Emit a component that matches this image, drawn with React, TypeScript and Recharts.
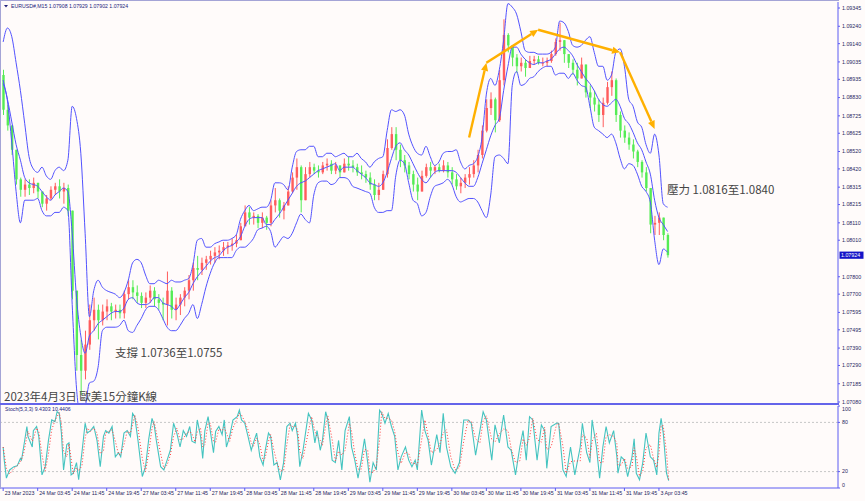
import React from 'react';
import { ComposedChart, LineChart, Bar, Line, XAxis, YAxis, ReferenceLine } from 'recharts';

// ---- hourly candles (EURUSD, 15-min chart aggregated per hour) ----
const openPrices = [
  1.0896,1.0876,1.0867,1.0853,1.0836,1.0830,1.0833,1.0831,1.0834,1.0829,
  1.0822,1.0825,1.0830,1.0832,1.0829,1.0831,1.0818,1.0772,1.0735,1.0726,
  1.0741,1.0755,1.0761,1.0755,1.0760,1.0763,1.0760,1.0761,1.0759,1.0770,
  1.0774,1.0771,1.0769,1.0765,1.0768,1.0772,1.0767,1.0765,1.0764,1.0772,
  1.0761,1.0764,1.0768,1.0772,1.0778,1.0785,1.0784,1.0788,1.0790,1.0792,
  1.0794,1.0795,1.0797,1.0798,1.0799,1.0801,1.0809,1.0817,1.0814,1.0815,
  1.0811,1.0814,1.0811,1.0821,1.0824,1.0818,1.0821,1.0829,1.0837,1.0843,
  1.0824,1.0839,1.0843,1.0841,1.0840,1.0844,1.0845,1.0841,1.0844,1.0840,
  1.0845,1.0844,1.0843,1.0840,1.0839,1.0837,1.0833,1.0827,1.0830,1.0839,
  1.0854,1.0862,1.0853,1.0847,1.0844,1.0839,1.0833,1.0829,1.0838,1.0843,
  1.0841,1.0843,1.0841,1.0844,1.0840,1.0836,1.0832,1.0834,1.0837,1.0839,
  1.0844,1.0850,1.0864,1.0877,1.0882,1.0870,1.0893,1.0919,1.0913,1.0906,
  1.0901,1.0903,1.0900,1.0904,1.0905,1.0903,1.0903,1.0904,1.0908,1.0915,
  1.0916,1.0908,1.0903,1.0899,1.0894,1.0902,1.0886,1.0883,1.0879,1.0873,
  1.0880,1.0889,1.0893,1.0873,1.0864,1.0860,1.0856,1.0852,1.0846,1.0840,
  1.0831,1.0810,1.0811,1.0814,1.0804,
];
const highPrices = [
  1.0899,1.0879,1.0867,1.0853,1.0837,1.0836,1.0836,1.0837,1.0834,1.0829,
  1.0827,1.0832,1.0834,1.0836,1.0834,1.0833,1.0818,1.0772,1.0744,1.0749,
  1.0764,1.0768,1.0764,1.0764,1.0767,1.0765,1.0764,1.0764,1.0772,1.0778,
  1.0778,1.0775,1.0771,1.0771,1.0775,1.0774,1.0770,1.0768,1.0783,1.0774,
  1.0768,1.0770,1.0774,1.0781,1.0788,1.0792,1.0791,1.0792,1.0795,1.0797,
  1.0798,1.0800,1.0800,1.0802,1.0804,1.0811,1.0821,1.0820,1.0817,1.0816,
  1.0817,1.0815,1.0824,1.0831,1.0825,1.0823,1.0832,1.0840,1.0848,1.0844,
  1.0843,1.0846,1.0845,1.0844,1.0846,1.0848,1.0847,1.0846,1.0844,1.0848,
  1.0849,1.0847,1.0845,1.0844,1.0841,1.0840,1.0836,1.0834,1.0841,1.0859,
  1.0866,1.0866,1.0856,1.0850,1.0846,1.0841,1.0837,1.0841,1.0845,1.0846,
  1.0844,1.0845,1.0847,1.0846,1.0843,1.0839,1.0837,1.0839,1.0843,1.0847,
  1.0853,1.0867,1.0882,1.0886,1.0883,1.0899,1.0928,1.0920,1.0913,1.0908,
  1.0906,1.0905,1.0907,1.0907,1.0907,1.0906,1.0906,1.0910,1.0917,1.0926,
  1.0916,1.0908,1.0905,1.0903,1.0906,1.0902,1.0890,1.0887,1.0882,1.0883,
  1.0892,1.0898,1.0894,1.0875,1.0867,1.0863,1.0859,1.0853,1.0847,1.0843,
  1.0831,1.0815,1.0817,1.0814,1.0805,
];
const lowPrices = [
  1.0873,1.0864,1.0850,1.0833,1.0826,1.0826,1.0827,1.0828,1.0825,1.0820,
  1.0818,1.0824,1.0827,1.0825,1.0822,1.0815,1.0767,1.0726,1.0712,1.0721,
  1.0738,1.0749,1.0744,1.0752,1.0755,1.0755,1.0756,1.0756,1.0756,1.0767,
  1.0767,1.0765,1.0762,1.0762,1.0765,1.0763,1.0761,1.0755,1.0752,1.0756,
  1.0755,1.0758,1.0763,1.0767,1.0772,1.0778,1.0781,1.0784,1.0787,1.0788,
  1.0790,1.0792,1.0793,1.0795,1.0797,1.0801,1.0809,1.0810,1.0810,1.0808,
  1.0808,1.0807,1.0809,1.0817,1.0814,1.0813,1.0821,1.0828,1.0830,1.0817,
  1.0824,1.0837,1.0839,1.0837,1.0839,1.0841,1.0839,1.0839,1.0837,1.0840,
  1.0841,1.0840,1.0838,1.0836,1.0834,1.0830,1.0824,1.0824,1.0830,1.0837,
  1.0853,1.0847,1.0843,1.0840,1.0836,1.0829,1.0824,1.0829,1.0837,1.0837,
  1.0839,1.0840,1.0840,1.0837,1.0833,1.0830,1.0828,1.0831,1.0833,1.0837,
  1.0840,1.0848,1.0863,1.0873,1.0863,1.0869,1.0890,1.0909,1.0901,1.0897,
  1.0898,1.0895,1.0900,1.0902,1.0902,1.0901,1.0901,1.0903,1.0907,1.0910,
  1.0903,1.0900,1.0896,1.0890,1.0894,1.0883,1.0877,1.0875,1.0869,1.0866,
  1.0879,1.0884,1.0869,1.0860,1.0857,1.0853,1.0848,1.0843,1.0837,1.0829,
  1.0805,1.0804,1.0804,1.0801,1.0791,
];
const closePrices = [
  1.0876,1.0867,1.0853,1.0836,1.0830,1.0833,1.0831,1.0834,1.0829,1.0822,
  1.0825,1.0830,1.0832,1.0829,1.0831,1.0818,1.0772,1.0735,1.0726,1.0741,
  1.0755,1.0761,1.0755,1.0760,1.0763,1.0760,1.0761,1.0759,1.0770,1.0774,
  1.0771,1.0769,1.0765,1.0768,1.0772,1.0767,1.0765,1.0764,1.0772,1.0761,
  1.0764,1.0768,1.0772,1.0778,1.0785,1.0784,1.0788,1.0790,1.0792,1.0794,
  1.0795,1.0797,1.0798,1.0799,1.0801,1.0809,1.0817,1.0814,1.0815,1.0811,
  1.0814,1.0811,1.0821,1.0824,1.0818,1.0821,1.0829,1.0837,1.0843,1.0824,
  1.0839,1.0843,1.0841,1.0840,1.0844,1.0845,1.0841,1.0844,1.0840,1.0845,
  1.0844,1.0843,1.0840,1.0839,1.0837,1.0833,1.0827,1.0830,1.0839,1.0854,
  1.0862,1.0853,1.0847,1.0844,1.0839,1.0833,1.0829,1.0838,1.0843,1.0841,
  1.0843,1.0841,1.0844,1.0840,1.0836,1.0832,1.0834,1.0837,1.0839,1.0844,
  1.0850,1.0864,1.0877,1.0882,1.0870,1.0893,1.0919,1.0913,1.0906,1.0901,
  1.0903,1.0900,1.0904,1.0905,1.0903,1.0903,1.0904,1.0908,1.0915,1.0916,
  1.0908,1.0903,1.0899,1.0894,1.0902,1.0886,1.0883,1.0879,1.0873,1.0880,
  1.0889,1.0893,1.0873,1.0864,1.0860,1.0856,1.0852,1.0846,1.0840,1.0831,
  1.0810,1.0811,1.0814,1.0804,1.07924,
];

// ---- Bollinger bands ----
const bandUpper = [
  1.0915,1.0923,1.0918,1.0903,1.0887,1.0868,1.0849,1.0842,1.0840,1.0843,
  1.0838,1.0836,1.0841,1.0843,1.0841,1.0847,1.0878,1.0871,1.0851,1.0805,
  1.0757,1.0772,1.0778,1.0774,1.0772,1.0771,1.0770,1.0768,1.0771,1.0778,
  1.0788,1.0790,1.0788,1.0781,1.0776,1.0776,1.0778,1.0777,1.0776,1.0778,
  1.0777,1.0777,1.0778,1.0779,1.0787,1.0801,1.0802,1.0797,1.0797,1.0799,
  1.0800,1.0801,1.0801,1.0802,1.0804,1.0813,1.0818,1.0821,1.0818,1.0819,
  1.0820,1.0820,1.0824,1.0834,1.0834,1.0833,1.0830,1.0843,1.0852,1.0853,
  1.0853,1.0855,1.0855,1.0849,1.0849,1.0851,1.0851,1.0849,1.0850,1.0851,
  1.0849,1.0849,1.0851,1.0848,1.0846,1.0843,1.0846,1.0848,1.0849,1.0864,
  1.0876,1.0875,1.0876,1.0873,1.0862,1.0855,1.0851,1.0850,1.0855,1.0849,
  1.0844,1.0846,1.0851,1.0852,1.0852,1.0853,1.0846,1.0842,1.0844,1.0845,
  1.0849,1.0860,1.0885,1.0894,1.0890,1.0899,1.0916,1.0937,1.0935,1.0931,
  1.0921,1.0910,1.0909,1.0909,1.0908,1.0908,1.0908,1.0909,1.0912,1.0927,
  1.0926,1.0921,1.0913,1.0912,1.0913,1.0916,1.0918,1.0909,1.0901,1.0901,
  1.0893,1.0896,1.0909,1.0911,1.0901,1.0882,1.0878,1.0869,1.0866,1.0856,
  1.0851,1.0862,1.0850,1.0822,1.0820,
];
const bandMiddle = [
  1.0893,1.0882,1.0869,1.0856,1.0847,1.0837,1.0834,1.0833,1.0832,1.0829,
  1.0826,1.0824,1.0827,1.0829,1.0831,1.0829,1.0805,1.0768,1.0746,1.0736,
  1.0746,1.0749,1.0753,1.0755,1.0757,1.0759,1.0760,1.0760,1.0762,1.0767,
  1.0768,1.0765,1.0764,1.0764,1.0765,1.0768,1.0768,1.0765,1.0764,1.0763,
  1.0761,1.0764,1.0768,1.0771,1.0776,1.0780,1.0783,1.0786,1.0789,1.0791,
  1.0792,1.0795,1.0797,1.0798,1.0800,1.0803,1.0809,1.0813,1.0814,1.0814,
  1.0814,1.0810,1.0810,1.0813,1.0816,1.0820,1.0824,1.0828,1.0832,1.0834,
  1.0835,1.0837,1.0839,1.0841,1.0842,1.0843,1.0844,1.0845,1.0841,1.0843,
  1.0843,1.0843,1.0841,1.0839,1.0837,1.0834,1.0833,1.0832,1.0834,1.0840,
  1.0848,1.0855,1.0857,1.0853,1.0850,1.0845,1.0840,1.0836,1.0834,1.0837,
  1.0840,1.0841,1.0841,1.0841,1.0841,1.0840,1.0837,1.0834,1.0832,1.0832,
  1.0837,1.0845,1.0853,1.0861,1.0867,1.0871,1.0887,1.0901,1.0912,1.0912,
  1.0908,1.0905,1.0903,1.0902,1.0903,1.0903,1.0904,1.0905,1.0908,1.0911,
  1.0912,1.0910,1.0907,1.0902,1.0898,1.0894,1.0891,1.0887,1.0882,1.0879,
  1.0878,1.0880,1.0882,1.0878,1.0871,1.0868,1.0863,1.0857,1.0853,1.0846,
  1.0839,1.0824,1.0814,1.0810,1.0806,
];
const bandLower = [
  1.0891,1.0881,1.0857,1.0829,1.0811,1.0824,1.0824,1.0824,1.0825,1.0818,
  1.0815,1.0815,1.0817,1.0817,1.0820,1.0818,1.0764,1.0716,1.0700,1.0705,
  1.0719,1.0720,1.0728,1.0749,1.0751,1.0751,1.0751,1.0752,1.0755,1.0749,
  1.0748,1.0752,1.0756,1.0761,1.0763,1.0763,1.0761,1.0756,1.0751,1.0749,
  1.0749,1.0752,1.0756,1.0759,1.0764,1.0756,1.0764,1.0774,1.0782,1.0788,
  1.0791,1.0791,1.0791,1.0791,1.0795,1.0797,1.0797,1.0799,1.0802,1.0807,
  1.0808,1.0809,1.0806,1.0797,1.0800,1.0803,1.0802,1.0805,1.0811,1.0816,
  1.0813,1.0811,1.0827,1.0834,1.0835,1.0835,1.0833,1.0834,1.0837,1.0837,
  1.0836,1.0832,1.0831,1.0830,1.0829,1.0828,1.0820,1.0817,1.0817,1.0818,
  1.0818,1.0838,1.0847,1.0845,1.0834,1.0824,1.0822,1.0815,1.0817,1.0826,
  1.0832,1.0833,1.0834,1.0836,1.0833,1.0826,1.0823,1.0824,1.0825,1.0825,
  1.0823,1.0818,1.0814,1.0827,1.0849,1.0850,1.0848,1.0845,1.0890,1.0898,
  1.0890,1.0891,1.0894,1.0895,1.0898,1.0900,1.0901,1.0901,1.0896,1.0897,
  1.0897,1.0894,1.0897,1.0893,1.0890,1.0889,1.0878,1.0866,1.0864,1.0862,
  1.0860,1.0862,1.0857,1.0848,1.0842,1.0845,1.0844,1.0839,1.0832,1.0829,
  1.0823,1.0801,1.0787,1.0796,1.0794,
];

const priceTicks = [
  1.09345, 1.0924, 1.0914, 1.09035, 1.08935, 1.0883, 1.08725, 1.08625, 1.0852, 1.0842,
  1.08315, 1.08215, 1.0811, 1.0801, 1.078, 1.077, 1.07595, 1.07495, 1.0739, 1.0729,
  1.07185, 1.0708,
];
const priceDomain = [1.070685, 1.093795];
const lastPrice = 1.07924;

const timeLabels = [
  '23 Mar 2023', '24 Mar 03:45', '24 Mar 11:45', '24 Mar 19:45', '27 Mar 03:45',
  '27 Mar 11:45', '27 Mar 19:45', '28 Mar 03:45', '28 Mar 11:45', '28 Mar 19:45',
  '29 Mar 03:45', '29 Mar 11:45', '29 Mar 19:45', '30 Mar 03:45', '30 Mar 11:45',
  '30 Mar 19:45', '31 Mar 03:45', '31 Mar 11:45', '31 Mar 19:45', '3 Apr 03:45',
];
const TIME_TICK_STEP = 8; // hours between labels
const SLOT_COUNT = 194; // hour slots including right-hand chart shift

// ---- Stochastic (5,3,3), sampled at 15-min bar indices ----
const stochBars = [
  0,1,3,6,10,13,16,17,19,22, 23,27,28,31,33,36,39,42,45,48,
  50,52,54,56,59,61,63,65,68,70, 73,76,78,81,84,87,90,93,95,98,
  101,104,107,109,112,115,118,120,122,125, 129,132,135,138,140,142,146,149,152,155,
  158,161,164,167,170,173,175,178,180,183, 185,187,190,192,195,197,200,203,205,207,
  210,213,217,219,221,224,227,230,232,235, 238,241,243,246,248,251,254,257,260,263,
  266,268,271,273,275,278,283,286,289,291, 294,296,299,301,305,308,311,314,317,321,
  323,326,329,332,335,338,340,343,346,349, 351,354,357,360,363,366,369,373,376,379,
  382,384,388,391,394,397,402,405,408,411, 415,419,423,427,431,434,438,442,445,448,
  453,456,460,464,468,471,475,479,482,485, 488,491,495,499,502,504,508,513,515,519,
  522,526,530,535,537,541,544,546,550,553, 556,559,562,566,569,570,573,576,579,583,
  585,587,590,593,596,600,603,606,608,610, 612,615,617,
];
const stochMain = [
  50,34,12,22,26,27,36,34,50,75, 63,50,70,75,63,16,26,58,83,81,
  93,91,67,22,53,55,16,18,31,10, 43,79,67,70,75,58,26,63,70,67,
  75,38,43,38,67,70,63,91,87,58, 14,26,60,85,77,58,26,22,34,46,
  79,67,50,70,63,75,57,55,83,63, 36,70,87,70,43,69,75,65,83,50,
  63,83,87,95,83,79,63,46,55,67, 38,28,46,67,63,28,31,10,31,75,
  79,70,79,63,26,46,91,83,55,70, 46,58,93,83,34,31,58,22,70,87,
  50,34,12,34,60,31,7,31,22,95, 91,79,91,75,63,22,38,50,34,26,
  34,22,95,70,58,28,65,43,91,50, 26,18,31,83,83,79,40,70,93,83,
  34,77,55,89,50,46,16,50,70,34, 87,83,34,77,70,24,75,79,79,22,
  14,50,16,50,79,43,31,83,50,12, 50,75,55,70,38,18,38,34,14,38,
  60,18,10,31,67,38,34,16,67,85, 67,18,9,
];
const stochSignal = [
  50,42,23,17,24,27,32,35,42,63, 69,57,60,73,69,40,21,42,71,82,
  87,92,79,45,38,54,36,17,25,21, 27,61,73,69,73,67,42,45,67,69,
  71,57,41,41,53,69,67,77,89,73, 36,20,43,73,81,68,42,24,28,40,
  63,73,59,60,67,69,66,56,69,73, 50,53,79,79,57,56,72,70,74,67,
  57,73,85,91,89,81,71,55,51,61, 53,33,37,57,65,46,30,21,21,53,
  77,75,75,71,45,36,69,87,69,63, 58,52,76,88,59,33,45,40,46,79,
  69,42,23,23,47,46,19,19,27,59, 93,85,85,83,69,43,30,44,42,30,
  30,28,59,83,64,43,47,54,67,71, 38,22,25,57,83,81,60,55,82,88,
  59,56,66,72,70,48,31,33,60,52, 61,85,59,56,74,47,50,77,79,51,
  18,32,33,33,65,61,37,57,67,31, 31,63,65,63,54,28,28,36,24,26,
  49,39,14,21,49,53,36,25,42,76, 76,43,10,
];
const stochTicks = [0, 20, 80, 100];
const stochLevels = [20, 80];

// orange trend arrows (hour slot, price)
const trendHours = [108, 112, 124, 143, 151];
const trendPrices = [1.086, 1.0903, 1.0922, 1.0909, 1.0865];

const mainData = Array.from({ length: SLOT_COUNT }, (_, i) =>
  i < closePrices.length
    ? {
        hour: i,
        range: [lowPrices[i], highPrices[i]],
        open: openPrices[i],
        high: highPrices[i],
        low: lowPrices[i],
        close: closePrices[i],
        upper: bandUpper[i],
        middle: bandMiddle[i],
        lower: bandLower[i],
      }
    : { hour: i }
);

const stochData = stochBars.map((b, j) => ({ hour: b / 4, main: stochMain[j], signal: stochSignal[j] }));

const AXIS_BLUE = '#5c5cf2';
const AXIS_TEXT = '#26265e';
const BAND_BLUE = '#5252ff';
const ORANGE = '#ffb000';

const Candle = (props: any) => {
  const { x, y, width, height, payload } = props;
  if (!payload || payload.high == null || typeof y !== 'number' || isNaN(y)) return null;
  const top = Math.min(y, y + height);
  const bottom = Math.max(y, y + height);
  const span = payload.high - payload.low;
  const k = span > 0 ? (bottom - top) / span : 0;
  const yOpen = top + (payload.high - payload.open) * k;
  const yClose = top + (payload.high - payload.close) * k;
  const up = payload.close >= payload.open;
  const color = up ? '#ff5c5c' : '#55ec55';
  const cx = x + width / 2;
  const bodyTop = Math.min(yOpen, yClose);
  const bodyH = Math.max(Math.abs(yClose - yOpen), 0.8);
  return (
    <g>
      <line x1={cx} x2={cx} y1={top} y2={bottom} stroke={color} strokeWidth={1} />
      <rect x={cx - 1.2} y={bodyTop} width={2.4} height={bodyH} fill={color} />
    </g>
  );
};

const ArrowSegment = (props: any) => {
  const { x1, y1, x2, y2 } = props;
  if ([x1, y1, x2, y2].some((v) => typeof v !== 'number' || isNaN(v))) return null;
  const ang = Math.atan2(y2 - y1, x2 - x1);
  const len = 8;
  const half = 3.6;
  const bx = x2 - len * Math.cos(ang);
  const by = y2 - len * Math.sin(ang);
  const px = -Math.sin(ang) * half;
  const py = Math.cos(ang) * half;
  return (
    <g>
      <line x1={x1} y1={y1} x2={bx} y2={by} stroke={ORANGE} strokeWidth={2.4} />
      <polygon points={`${x2},${y2} ${bx + px},${by + py} ${bx - px},${by - py}`} fill={ORANGE} />
    </g>
  );
};

const PriceTag = (props: any) => {
  const vb = props.viewBox || {};
  const x = (vb.x || 0) + (vb.width || 0);
  const y = vb.y || 0;
  return (
    <g>
      <rect x={x + 1.5} y={y - 3.6} width={24} height={7.2} fill="#1414c8" />
      <text x={x + 3} y={y} dy="0.35em" fontSize={5.3} fill="#ffffff">
        {lastPrice.toFixed(5)}
      </text>
    </g>
  );
};

const PriceTick = (props: any) => {
  const { x, y, payload } = props;
  return (
    <text x={x} y={y} dy="0.35em" fontSize={5.3} fill={AXIS_TEXT} textAnchor="start">
      {Number(payload.value).toFixed(5)}
    </text>
  );
};

const StochTick = (props: any) => {
  const { x, y, payload } = props;
  const shift = payload.value === 100 ? 3 : payload.value === 0 ? -3 : 0;
  return (
    <text x={x} y={y + shift} dy="0.35em" fontSize={5.3} fill={AXIS_TEXT} textAnchor="start">
      {payload.value}
    </text>
  );
};

const TimeTick = (props: any) => {
  const { x, y, payload } = props;
  return (
    <text x={x + 1.5} y={y} dy="0.35em" fontSize={5.3} fill={AXIS_TEXT} textAnchor="start">
      {timeLabels[Math.round(payload.value / TIME_TICK_STEP)]}
    </text>
  );
};

const noteStyle: React.CSSProperties = {
  position: 'absolute',
  fontFamily: "'Noto Sans CJK TC', 'Noto Sans CJK SC', sans-serif",
  fontSize: 11.5,
  lineHeight: '14px',
  color: '#454545',
  whiteSpace: 'nowrap',
};

export default function App() {
  return (
    <div
      style={{
        position: 'absolute',
        left: 0,
        top: 0,
        width: 865,
        height: 501,
        background: '#fffbfa',
        overflow: 'hidden',
        fontFamily: "'Liberation Sans', Arial, sans-serif",
      }}
    >
      <div style={{ position: 'absolute', left: 0, top: 0 }}>
        <ComposedChart width={865} height={405} data={mainData} margin={{ top: 2, right: 0, bottom: 1, left: 1 }}>
          <XAxis dataKey="hour" type="category" hide />
          <YAxis
            orientation="right"
            width={27}
            type="number"
            domain={priceDomain}
            allowDataOverflow
            ticks={priceTicks}
            interval={0}
            tickSize={2}
            tickMargin={2}
            tick={<PriceTick />}
            axisLine={{ stroke: AXIS_BLUE }}
            tickLine={{ stroke: AXIS_BLUE }}
          />
          <Bar dataKey="range" barSize={3} shape={<Candle />} isAnimationActive={false} />
          <Line dataKey="upper" type="monotone" stroke={BAND_BLUE} strokeWidth={1} dot={false} activeDot={false} isAnimationActive={false} />
          <Line dataKey="middle" type="monotone" stroke={BAND_BLUE} strokeWidth={1} dot={false} activeDot={false} isAnimationActive={false} />
          <Line dataKey="lower" type="monotone" stroke={BAND_BLUE} strokeWidth={1} dot={false} activeDot={false} isAnimationActive={false} />
          {trendHours.slice(1).map((h, j) => (
            <ReferenceLine
              key={`arrow-${j}`}
              segment={[
                { x: trendHours[j], y: trendPrices[j] },
                { x: h, y: trendPrices[j + 1] },
              ]}
              ifOverflow="visible"
              shape={ArrowSegment}
            />
          ))}
          <ReferenceLine y={lastPrice} stroke="none" ifOverflow="visible" label={PriceTag} />
        </ComposedChart>
      </div>

      <div style={{ position: 'absolute', left: 0, top: 405 }}>
        <LineChart width={865} height={96} data={stochData} margin={{ top: 1, right: 0, bottom: 0, left: 1 }}>
          <XAxis
            dataKey="hour"
            type="number"
            domain={[-0.5, SLOT_COUNT - 0.5]}
            allowDataOverflow
            ticks={timeLabels.map((_, k) => k * TIME_TICK_STEP)}
            interval={0}
            height={13}
            tickSize={3}
            tickMargin={2}
            tick={<TimeTick />}
            axisLine={{ stroke: AXIS_BLUE }}
            tickLine={{ stroke: AXIS_BLUE }}
          />
          <YAxis
            orientation="right"
            width={27}
            type="number"
            domain={[0, 100]}
            ticks={stochTicks}
            interval={0}
            tickSize={2}
            tickMargin={2}
            tick={<StochTick />}
            axisLine={{ stroke: AXIS_BLUE }}
            tickLine={{ stroke: AXIS_BLUE }}
          />
          {stochLevels.map((lv) => (
            <ReferenceLine key={lv} y={lv} stroke="#c6c6c6" strokeDasharray="2 2" />
          ))}
          <Line dataKey="main" type="linear" stroke="#45c4c0" strokeWidth={1.1} dot={false} activeDot={false} isAnimationActive={false} />
          <Line dataKey="signal" type="linear" stroke="#ff3c3c" strokeWidth={1} strokeDasharray="1 2" dot={false} activeDot={false} isAnimationActive={false} />
        </LineChart>
      </div>

      {/* frame */}
      <div style={{ position: 'absolute', left: 0, top: 0, width: 839, height: 1, background: '#a4a4d6' }} />
      <div style={{ position: 'absolute', left: 0, top: 0, width: 1, height: 489, background: '#a4a4d6' }} />
      <div style={{ position: 'absolute', left: 0, top: 403, width: 839, height: 2, background: '#6464ea' }} />

      {/* small texts */}
      <svg width={865} height={501} style={{ position: 'absolute', left: 0, top: 0, pointerEvents: 'none' }}>
        <polygon points="4,5 8,5 6,7.5" fill="#20207a" />
        <text x={11} y={6} dy="0.35em" fontSize={5.2} fill="#23237a">
          EURUSD#,M15  1.07908 1.07929 1.07902 1.07924
        </text>
        <text x={5} y={409} dy="0.35em" fontSize={5.2} fill="#23237a">
          Stoch(5,3,3) 9.4303 10.4406
        </text>
      </svg>

      {/* annotations */}
      <div style={{ ...noteStyle, left: 115, top: 345 }}>支撐 1.0736至1.0755</div>
      <div style={{ ...noteStyle, left: 667, top: 182 }}>壓力 1.0816至1.0840</div>
      <div style={{ ...noteStyle, left: 4, top: 389 }}>2023年4月3日 歐美15分鐘K線</div>
    </div>
  );
}
